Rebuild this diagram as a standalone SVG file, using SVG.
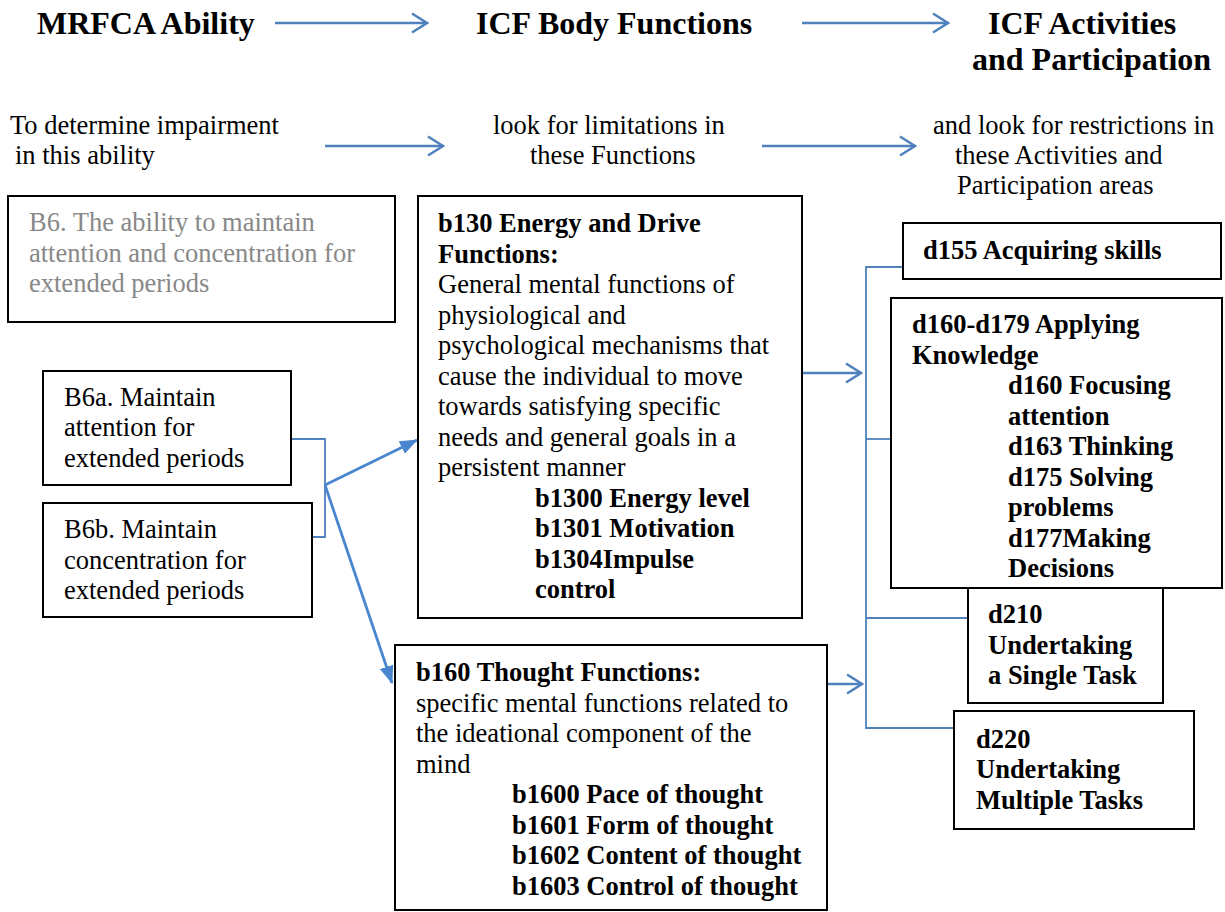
<svg xmlns="http://www.w3.org/2000/svg" width="1225" height="912" viewBox="0 0 1225 912">
<style>
text{font-family:"Liberation Serif","Times New Roman",serif;font-size:26.5px;fill:#000}
.h{font-size:32px;font-weight:bold}
.b{font-weight:bold}
.g{fill:#888}
.box{fill:#fff;stroke:#000;stroke-width:2}
.ar{fill:none;stroke:#4F81BD;stroke-width:2.5}
.br{fill:none;stroke:#4F81BD;stroke-width:1.8}
.da{fill:none;stroke:#4A86D0;stroke-width:2.8}
</style>
<defs>
<marker id="open" markerUnits="userSpaceOnUse" markerWidth="18" markerHeight="22" viewBox="0 0 18 22" refX="16" refY="11" orient="auto">
<path d="M1,1.5 L16,11 L1,20.5" fill="none" stroke="#4F81BD" stroke-width="2.5"/>
</marker>
<marker id="fill" markerUnits="userSpaceOnUse" markerWidth="18" markerHeight="14" viewBox="0 0 18 14" refX="17" refY="7" orient="auto">
<path d="M0,0 L18,7 L0,14 z" fill="#4A86D0"/>
</marker>
</defs>

<g id="headers">
<text class="h" x="37" y="34">MRFCA Ability</text>
<text class="h" x="476" y="34">ICF Body Functions</text>
<text class="h" x="988" y="34">ICF Activities</text>
<text class="h" x="972" y="70">and Participation</text>
<text x="10" y="134">To determine impairment</text>
<text x="15" y="164">in this ability</text>
<text x="493" y="134">look for limitations in</text>
<text x="530" y="164">these Functions</text>
<text x="933" y="134">and look for restrictions in</text>
<text x="955" y="164">these Activities and</text>
<text x="957" y="194">Participation areas</text>
</g>

<g id="connectors">
<line class="ar" x1="275" y1="23" x2="427" y2="23" marker-end="url(#open)"/>
<line class="ar" x1="802" y1="23" x2="948" y2="23" marker-end="url(#open)"/>
<line class="ar" x1="325" y1="146" x2="443" y2="146" marker-end="url(#open)"/>
<line class="ar" x1="762" y1="146" x2="915" y2="146" marker-end="url(#open)"/>
<polyline class="br" points="291,439 325,439 325,537 312,537"/>
<line class="da" x1="325" y1="485" x2="417" y2="440" marker-end="url(#fill)"/>
<line class="da" x1="325" y1="485" x2="392" y2="683" marker-end="url(#fill)"/>
<line class="ar" x1="802" y1="373" x2="861" y2="373" marker-end="url(#open)"/>
<line class="ar" x1="827" y1="684" x2="862" y2="684" marker-end="url(#open)"/>
<polyline class="br" points="903,267 866,267 866,728 954,728"/>
<line class="br" x1="866" y1="439" x2="891" y2="439"/>
<line class="br" x1="866" y1="618" x2="968" y2="618"/>
</g>

<g id="b6">
<rect class="box" x="8" y="196" width="387" height="126"/>
<text class="g" x="29" y="231">B6. The ability to maintain</text>
<text class="g" x="29" y="262">attention and concentration for</text>
<text class="g" x="29" y="292">extended periods</text>
</g>

<g id="b6a">
<rect class="box" x="43" y="371" width="248" height="114"/>
<text x="64" y="406">B6a. Maintain</text>
<text x="64" y="436">attention for</text>
<text x="64" y="467">extended periods</text>
</g>

<g id="b6b">
<rect class="box" x="43" y="503" width="269" height="114"/>
<text x="64" y="538">B6b. Maintain</text>
<text x="64" y="569">concentration for</text>
<text x="64" y="599">extended periods</text>
</g>

<g id="b130">
<rect class="box" x="418" y="196" width="384" height="422"/>
<text class="b" x="438" y="232">b130 Energy and Drive</text>
<text class="b" x="438" y="262.5">Functions:</text>
<text x="438" y="293">General mental functions of</text>
<text x="438" y="323.5">physiological and</text>
<text x="438" y="354">psychological mechanisms that</text>
<text x="438" y="384.5">cause the individual to move</text>
<text x="438" y="415">towards satisfying specific</text>
<text x="438" y="445.5">needs and general goals in a</text>
<text x="438" y="476">persistent manner</text>
<text class="b" x="535" y="506.5">b1300 Energy level</text>
<text class="b" x="535" y="537">b1301 Motivation</text>
<text class="b" x="535" y="567.5">b1304Impulse</text>
<text class="b" x="535" y="598">control</text>
</g>

<g id="b160">
<rect class="box" x="395" y="645" width="432" height="265"/>
<text class="b" x="416" y="681">b160 Thought Functions:</text>
<text x="416" y="711.5">specific mental functions related to</text>
<text x="416" y="742">the ideational component of the</text>
<text x="416" y="772.5">mind</text>
<text class="b" x="512" y="803">b1600 Pace of thought</text>
<text class="b" x="512" y="833.5">b1601 Form of thought</text>
<text class="b" x="512" y="864">b1602 Content of thought</text>
<text class="b" x="512" y="894.5">b1603 Control of thought</text>
</g>

<g id="d155">
<rect class="box" x="903" y="223" width="318" height="56"/>
<text class="b" x="923" y="259">d155 Acquiring skills</text>
</g>

<g id="d160">
<rect class="box" x="891" y="298" width="331" height="290"/>
<text class="b" x="912" y="333">d160-d179 Applying</text>
<text class="b" x="912" y="363.5">Knowledge</text>
<text class="b" x="1008" y="394">d160 Focusing</text>
<text class="b" x="1008" y="424.5">attention</text>
<text class="b" x="1008" y="455">d163 Thinking</text>
<text class="b" x="1008" y="485.5">d175 Solving</text>
<text class="b" x="1008" y="516">problems</text>
<text class="b" x="1008" y="546.5">d177Making</text>
<text class="b" x="1008" y="577">Decisions</text>
</g>

<g id="d210">
<rect class="box" x="968" y="588" width="195" height="115"/>
<text class="b" x="988" y="623">d210</text>
<text class="b" x="988" y="654">Undertaking</text>
<text class="b" x="988" y="684">a Single Task</text>
</g>

<g id="d220">
<rect class="box" x="954" y="711" width="240" height="118"/>
<text class="b" x="976" y="748">d220</text>
<text class="b" x="976" y="778">Undertaking</text>
<text class="b" x="976" y="809">Multiple Tasks</text>
</g>
</svg>
